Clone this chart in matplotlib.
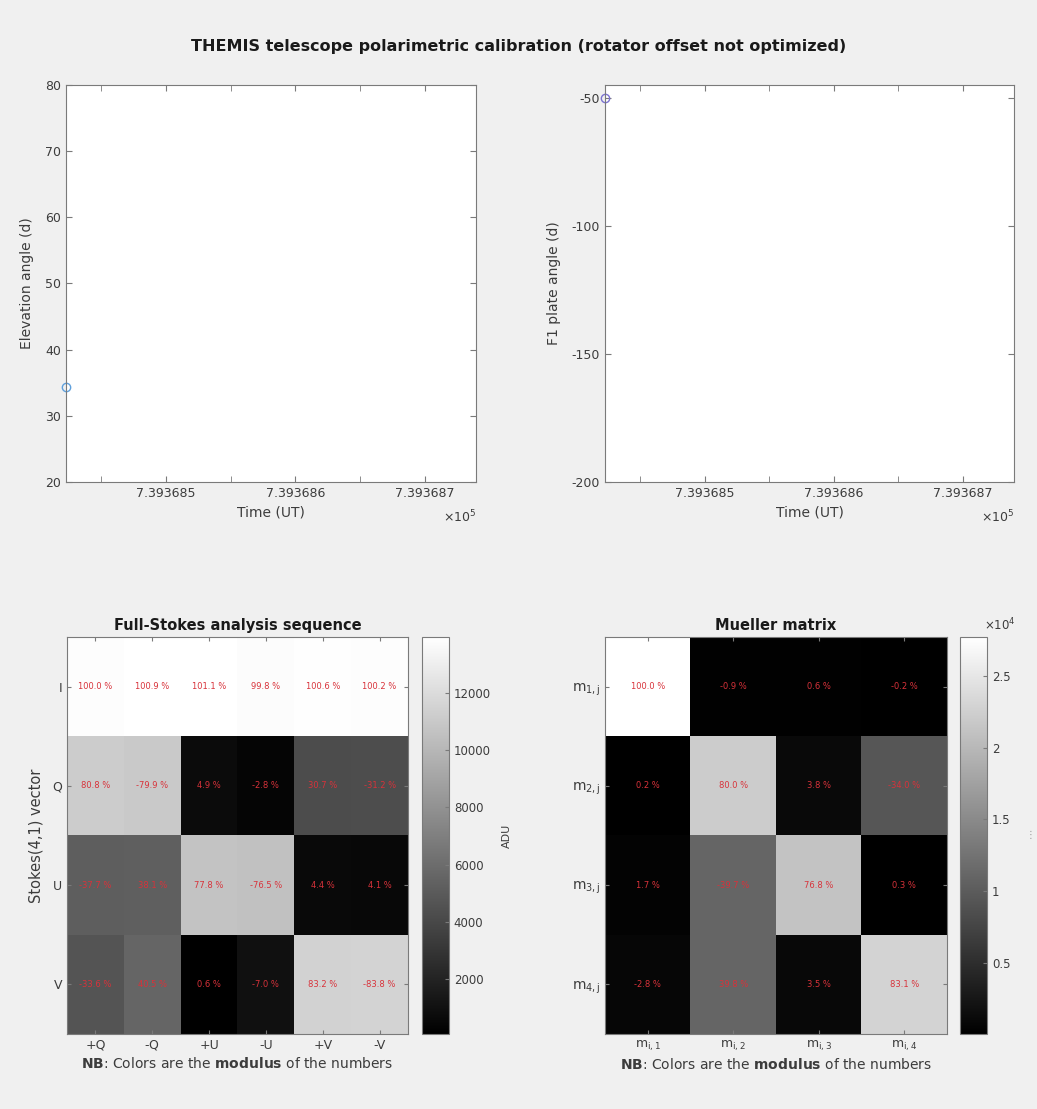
import matplotlib.pyplot as plt
import numpy as np
from matplotlib.ticker import MultipleLocator, FuncFormatter

# --- data ---
time_ut = [739368.4227]          # datenum (days)
elevation = [34.3]               # deg
f1_angle = [-50.0]               # deg

stokes_rows = ['I', 'Q', 'U', 'V']
stokes_cols = ['+Q', '-Q', '+U', '-U', '+V', '-V']
i_ref_adu = 13800.0
# percent of the reference intensity, one list per Stokes row
pct_I = [100.0, 100.9, 101.1, 99.8, 100.6, 100.2]
pct_Q = [80.8, -79.9, 4.9, -2.8, 30.7, -31.2]
pct_U = [-37.7, 38.1, 77.8, -76.5, 4.4, 4.1]
pct_V = [-33.6, 40.5, 0.6, -7.0, 83.2, -83.8]

mueller_rows = [r'$\mathregular{m_{%d,j}}$' % i for i in range(1, 5)]
mueller_cols = [r'$\mathregular{m_{i,%d}}$' % i for i in range(1, 5)]
m11_adu = 27700.0
m_row1 = [100.0, -0.9, 0.6, -0.2]
m_row2 = [0.2, 80.0, 3.8, -34.0]
m_row3 = [1.7, -39.7, 76.8, 0.3]
m_row4 = [-2.8, 39.8, 3.5, 83.1]

W, H = 1037, 1109
BG = '#f0f0f0'
AX_COL = '#7a7a7a'
TXT = '#3c3c3c'
RED = '#d8323a'

plt.rcParams['font.family'] = 'DejaVu Sans'
plt.rcParams['axes.unicode_minus'] = False
plt.rcParams['axes.edgecolor'] = AX_COL
plt.rcParams['xtick.color'] = AX_COL
plt.rcParams['ytick.color'] = AX_COL
plt.rcParams['xtick.labelcolor'] = TXT
plt.rcParams['ytick.labelcolor'] = TXT

fig = plt.figure(figsize=(W / 100, H / 100), dpi=100, facecolor=BG)


def px_axes(l, t, r, b):
    return fig.add_axes([l / W, 1 - b / H, (r - l) / W, (b - t) / H])


fig.text(0.5, 1 - 47 / H,
         'THEMIS telescope polarimetric calibration (rotator offset not optimized)',
         ha='center', va='center', fontsize=11.5, fontweight='bold', color='#1a1a1a')


def time_axes(ax, y, ylim, yticks, ylabel, color):
    ax.plot(time_ut, y, 'o', mfc='none', mec=color, ms=6, mew=1.0, clip_on=False)
    ax.set_xlim(time_ut[0], time_ut[0] + 0.317)
    ax.set_ylim(*ylim)
    ax.set_yticks(yticks)
    ax.xaxis.set_major_locator(MultipleLocator(0.1))
    ax.xaxis.set_minor_locator(MultipleLocator(0.05))
    ax.xaxis.set_major_formatter(FuncFormatter(lambda v, p: f'{v / 1e5:.6f}'))
    ax.tick_params(which='both', direction='in', top=True, right=True, labelsize=9)
    ax.tick_params(which='major', length=4)
    ax.tick_params(which='minor', length=4)
    ax.set_xlabel('Time (UT)', fontsize=10, color=TXT, labelpad=4)
    ax.set_ylabel(ylabel, fontsize=10, color=TXT, labelpad=8)
    ax.text(1.0, -0.088, r'$\times10^5$', transform=ax.transAxes, ha='right',
            va='center', fontsize=9, color=TXT)


ax1 = px_axes(66, 85, 476, 482)
time_axes(ax1, elevation, (20, 80), range(20, 81, 10), 'Elevation angle (d)', '#5fa0dc')
ax2 = px_axes(605, 85, 1014, 482)
time_axes(ax2, f1_angle, (-200, -45), [-200, -150, -100, -50], 'F1 plate angle (d)', '#7b72d0')


def heatmap(ax, cax, pct, ref, xlabels, ylabels, title, vmin, vmax):
    pct = np.array(pct)
    adu = np.abs(pct / 100.0 * ref)
    im = ax.imshow(adu, cmap='gray', vmin=vmin, vmax=vmax, aspect='auto',
                   interpolation='nearest')
    for r in range(pct.shape[0]):
        for c in range(pct.shape[1]):
            ax.text(c, r, f'{pct[r, c]:.1f} %', ha='center', va='center',
                    fontsize=6, color=RED)
    ax.set_xticks(range(len(xlabels)))
    ax.set_xticklabels(xlabels)
    ax.set_yticks(range(len(ylabels)))
    ax.set_yticklabels(ylabels)
    ax.tick_params(direction='in', top=True, right=True, length=3, labelsize=9)
    ax.set_title(title, fontsize=10.5, fontweight='bold', color='#1a1a1a', pad=5)
    ax.set_xlabel(r'$\bf{NB}$: Colors are the $\bf{modulus}$ of the numbers',
                  fontsize=10, color=TXT, labelpad=3)
    cb = fig.colorbar(im, cax=cax)
    cb.ax.tick_params(direction='in', length=3, labelsize=8.5, color=AX_COL)
    cb.outline.set_edgecolor(AX_COL)
    return cb


axh1 = px_axes(67, 637, 408, 1034)
cax1 = px_axes(422, 637, 449, 1034)
cb1 = heatmap(axh1, cax1, [pct_I, pct_Q, pct_U, pct_V], i_ref_adu, stokes_cols,
              stokes_rows, 'Full-Stokes analysis sequence', 80, 13955)
cb1.set_ticks([2000, 4000, 6000, 8000, 10000, 12000])
cb1.set_label('ADU', fontsize=8, color=TXT, labelpad=8)
axh1.set_ylabel('Stokes(4,1) vector', fontsize=10.5, color=TXT, labelpad=6)

axh2 = px_axes(605, 637, 947, 1034)
cax2 = px_axes(960, 637, 987, 1034)
cb2 = heatmap(axh2, cax2, [m_row1, m_row2, m_row3, m_row4], m11_adu, mueller_cols,
              mueller_rows, 'Mueller matrix', 40, 27700)
axh2.tick_params(axis='y', labelsize=10)
cb2.set_ticks([5000, 10000, 15000, 20000, 25000])
cb2.set_ticklabels(['0.5', '1', '1.5', '2', '2.5'])
cax2.text(0.9, 1.03, r'$\times10^4$', transform=cax2.transAxes, ha='left',
          va='center', fontsize=8.5, color=TXT)
fig.text(1030 / W, 1 - 835 / H, '\u22ee', fontsize=7, color='#999999',
         ha='center', va='center')

fig.savefig('out.png', dpi=100, facecolor=BG)
